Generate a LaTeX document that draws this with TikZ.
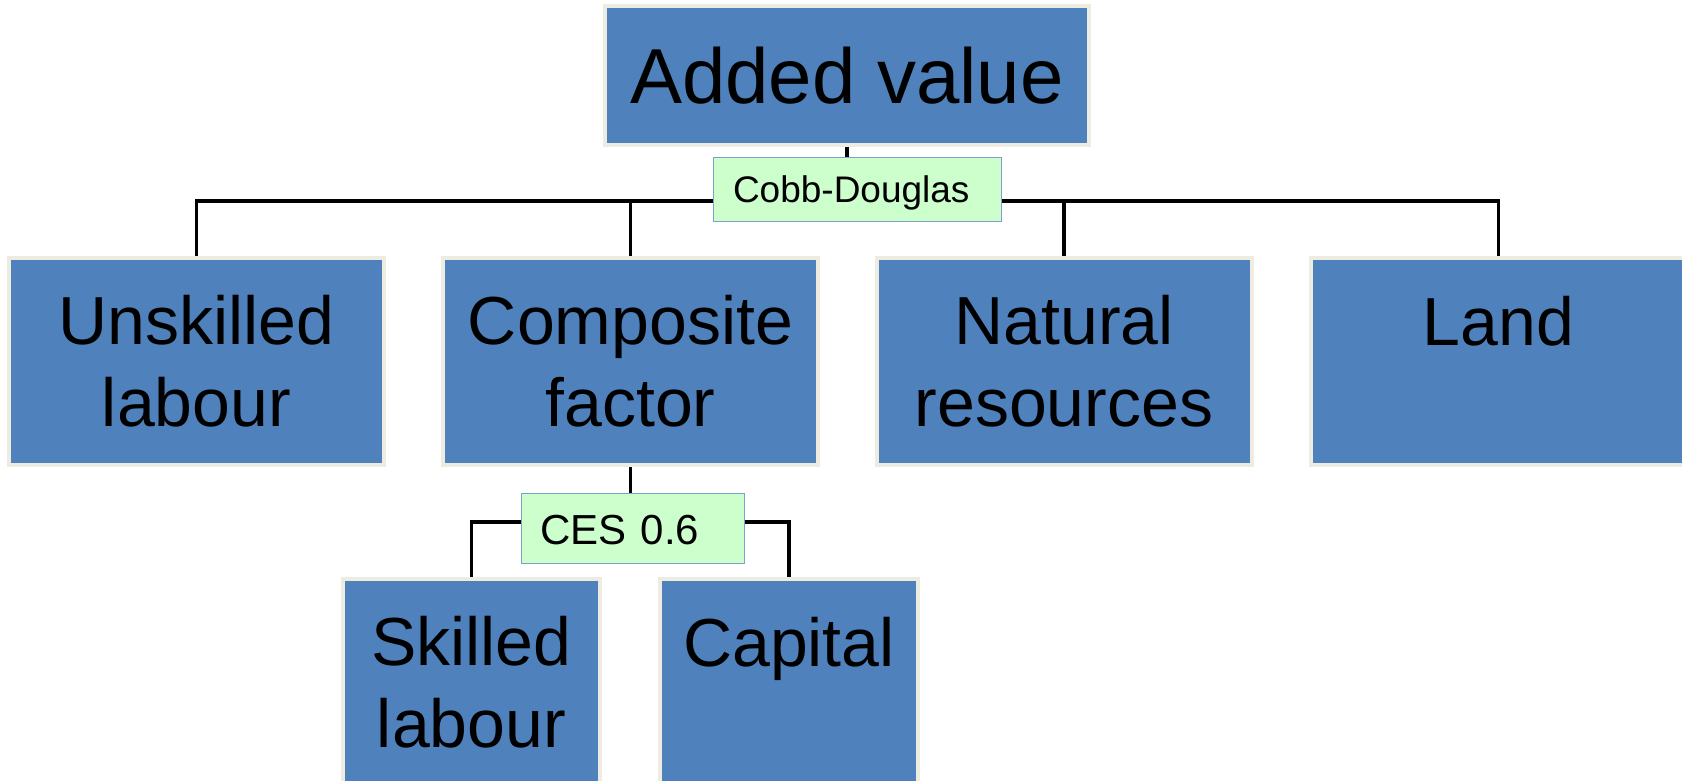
\documentclass[tikz,border=0pt]{standalone}
\usepackage{fontspec}
\setmainfont{Liberation Sans}
\usetikzlibrary{backgrounds}
\definecolor{boxblue}{HTML}{4F81BD}
\definecolor{boxrim}{HTML}{EEECE1}
\definecolor{tagfill}{HTML}{CCFFCC}
\definecolor{tagrim}{HTML}{7F9FCF}
\tikzset{
  factor/.style={draw=boxrim, line width=4pt, fill=boxblue, inner sep=0pt,
    align=center, font=\fontsize{68}{82}\selectfont},
  widebox/.style={factor, minimum width=375pt, minimum height=207pt},
  topbox/.style={factor, font=\fontsize{78}{90}\selectfont},
  tag/.style={draw=tagrim, line width=1pt, fill=tagfill, inner ysep=0pt,
    align=left, text depth=0pt},
  link/.style={draw=black, line width=3.5pt}
}
\begin{document}
\begin{tikzpicture}[x=1pt, y=-1pt]
\useasboundingbox (0,0) rectangle (1682,781);
\clip (0,0) rectangle (1682,781);

% factor boxes
\node[topbox, minimum width=484pt, minimum height=139pt] (av) at (847,75.5) {Added value};

\node[widebox] (ul) at (196.5,361.5) {Unskilled\\labour};
\node[widebox] (cf) at (630.5,361.5) {Composite\\factor};
\node[widebox] (nr) at (1064,361.5) {Natural\\resources};
\node[widebox] (ld) at (1498.5,361.5) {Land\\\mbox{}};

\node[factor, minimum width=257pt, minimum height=207pt] (sk) at (471.5,682.5) {Skilled\\labour};
\node[factor, minimum width=258pt, minimum height=207pt] (cp) at (789,682.5) {Capital\\\mbox{}};

% function labels
\node[tag, font=\fontsize{37}{44}\selectfont, text width=248pt, inner xsep=20pt,
  minimum height=64pt, text height=27pt] (cd) at (857,189.5) {Cobb-Douglas};
\node[tag, font=\fontsize{42}{50}\selectfont, text width=185pt, inner xsep=19pt,
  minimum height=70pt, text height=31pt] (ces) at (633,528.5) {CES 0.6};

% branching points of the two nests
\coordinate (bus) at (847,201);
\coordinate (cesbus) at (630.5,522);

% tree connectors, behind the boxes
\begin{scope}[on background layer]
\draw[link] (av.south) -- (bus);
\draw[link] (ul.north) |- (bus) -| (ld.north);
\draw[link] (cf.north) -- (cf.north |- bus);
\draw[link] (nr.north) -- (nr.north |- bus);
\draw[link] (cf.south) -- (cesbus);
\draw[link] (sk.north) |- (cesbus) -| (cp.north);
\end{scope}
\end{tikzpicture}
\end{document}
